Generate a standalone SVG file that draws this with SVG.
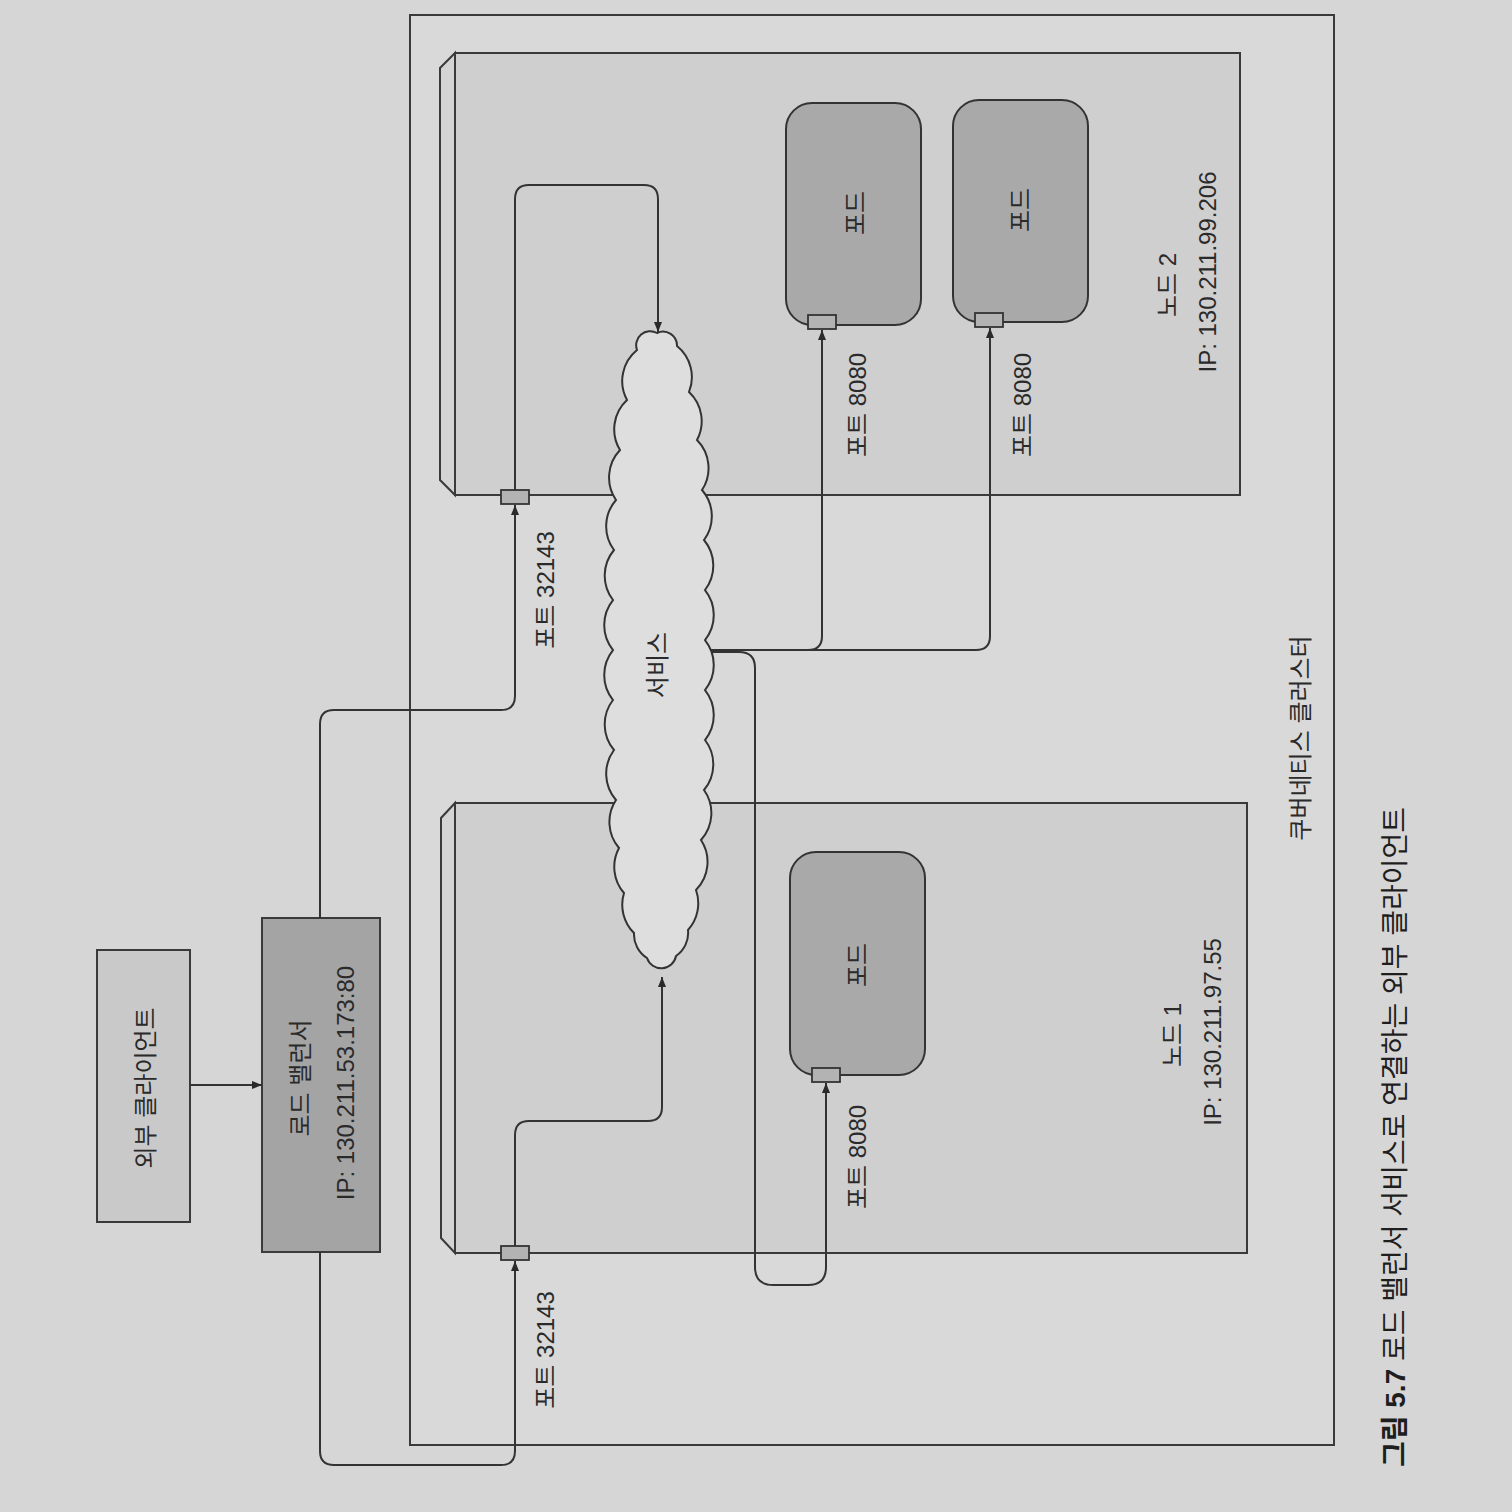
<svg xmlns="http://www.w3.org/2000/svg" width="1512" height="1512" viewBox="0 0 1512 1512">
<defs>
<style>
.t{font-family:"Liberation Sans","Noto Sans CJK KR",sans-serif;font-size:24px;fill:#2a2a2a;text-anchor:middle;dominant-baseline:central}
.cap{font-family:"Liberation Sans","Noto Sans CJK KR",sans-serif;font-size:28px;fill:#1e1e1e;dominant-baseline:central}
.ln{fill:none;stroke:#333;stroke-width:2}
.box{stroke:#3a3a3a;stroke-width:2}
.port{fill:#b3b3b3;stroke:#333;stroke-width:1.8}
.pod{fill:#a9a9a9;stroke:#333;stroke-width:2}
</style>
<marker id="ah" viewBox="0 0 10 8" refX="10" refY="4" markerWidth="10" markerHeight="8" markerUnits="userSpaceOnUse" orient="auto">
<path d="M0,0 L10,4 L0,8 z" fill="#2a2a2a"/>
</marker>
</defs>
<rect x="0" y="0" width="1512" height="1512" fill="#d6d6d6"/>

<g id="cluster">
<rect x="410" y="15" width="924" height="1430" fill="#d9d9d9" class="box"/>
<text class="t" transform="translate(1300,738) rotate(-90)">쿠버네티스 클러스터</text>
</g>

<g id="external-client">
<rect x="97" y="950" width="93" height="272" fill="#c9c9c9" class="box"/>
<text class="t" transform="translate(145,1088) rotate(-90)">외부 클라이언트</text>
</g>

<g id="load-balancer">
<rect x="262" y="918" width="118" height="334" fill="#a4a4a4" class="box"/>
<text class="t" transform="translate(300,1078) rotate(-90)">로드 밸런서</text>
<text class="t" transform="translate(345,1083) rotate(-90)">IP: 130.211.53.173:80</text>
</g>

<g id="node2">
<polygon points="455,53 440,68 440,480 455,495" fill="#d4d4d4" class="box"/>
<rect x="455" y="53" width="785" height="442" fill="#cfcfcf" class="box"/>
<text class="t" transform="translate(1167,285) rotate(-90)">노드 2</text>
<text class="t" transform="translate(1207,272) rotate(-90)">IP: 130.211.99.206</text>
</g>

<g id="node1">
<polygon points="455,803 441,818 441,1238 455,1253" fill="#d4d4d4" class="box"/>
<rect x="455" y="803" width="792" height="450" fill="#cfcfcf" class="box"/>
<text class="t" transform="translate(1172,1035) rotate(-90)">노드 1</text>
<text class="t" transform="translate(1212,1032) rotate(-90)">IP: 130.211.97.55</text>
</g>

<g id="pod2a">
<rect x="786" y="103" width="135" height="222" rx="26" class="pod"/>
<text class="t" transform="translate(855,213) rotate(-90)">포드</text>
</g>
<g id="pod2b">
<rect x="953" y="100" width="135" height="222" rx="26" class="pod"/>
<text class="t" transform="translate(1020,210) rotate(-90)">포드</text>
</g>
<g id="pod1">
<rect x="790" y="852" width="135" height="223" rx="26" class="pod"/>
<text class="t" transform="translate(857,965) rotate(-90)">포드</text>
</g>

<g id="connectors">
<path class="ln" d="M190,1085 H262" marker-end="url(#ah)"/>
<path class="ln" d="M320,918 V724 Q320,710 334,710 H501 Q515,710 515,696 V505" marker-end="url(#ah)"/>
<path class="ln" d="M320,1252 V1451 Q320,1465 334,1465 H501 Q515,1465 515,1451 V1261" marker-end="url(#ah)"/>
<path class="ln" d="M515,490 V199 Q515,185 529,185 H644 Q658,185 658,199 V332" marker-end="url(#ah)"/>
<path class="ln" d="M515,1246 V1135 Q515,1121 529,1121 H648 Q662,1121 662,1107 V977" marker-end="url(#ah)"/>
<path class="ln" d="M700,650 H808 Q822,650 822,636 V330" marker-end="url(#ah)"/>
<path class="ln" d="M808,650 H976 Q990,650 990,636 V328" marker-end="url(#ah)"/>
<path class="ln" d="M700,652 H739 Q755,652 755,668 V1267 Q755,1285 773,1285 H808 Q826,1285 826,1267 V1083" marker-end="url(#ah)"/>
</g>

<g id="ports">
<rect x="501" y="490" width="28" height="14" class="port"/>
<rect x="501" y="1246" width="28" height="14" class="port"/>
<rect x="808" y="315" width="28" height="14" class="port"/>
<rect x="975" y="313" width="28" height="14" class="port"/>
<rect x="812" y="1068" width="28" height="14" class="port"/>
</g>

<g id="service">
<path fill="#dedede" stroke="#333" stroke-width="2" d="M657,333 A14 14 0 0 1 677,346 A40 40 0 0 1 689,392 A40 40 0 0 1 697,440 A40 40 0 0 1 702,490 A40 40 0 0 1 704,540 A40 40 0 0 1 705,590 A40 40 0 0 1 705,640 A40 40 0 0 1 705,690 A40 40 0 0 1 705,740 A40 40 0 0 1 704,790 A40 40 0 0 1 701,840 A40 40 0 0 1 696,890 A40 40 0 0 1 688,930 A28 28 0 0 1 676,956 A15 15 0 0 1 647,958 A28 28 0 0 1 634,933 A40 40 0 0 1 624,893 A40 40 0 0 1 619,848 A40 40 0 0 1 616,800 A40 40 0 0 1 614,750 A40 40 0 0 1 613,700 A40 40 0 0 1 613,650 A40 40 0 0 1 613,600 A40 40 0 0 1 614,550 A40 40 0 0 1 616,500 A40 40 0 0 1 620,450 A40 40 0 0 1 627,400 A40 40 0 0 1 637,350 A14 14 0 0 1 657,333 Z"/>
<text class="t" transform="translate(657,665) rotate(-90)">서비스</text>
</g>

<g id="labels">
<text class="t" transform="translate(545,590) rotate(-90)">포트 32143</text>
<text class="t" transform="translate(545,1350) rotate(-90)">포트 32143</text>
<text class="t" transform="translate(857,405) rotate(-90)">포트 8080</text>
<text class="t" transform="translate(1022,405) rotate(-90)">포트 8080</text>
<text class="t" transform="translate(857,1157) rotate(-90)">포트 8080</text>
</g>

<g id="caption">
<text class="cap" transform="translate(1395,1467) rotate(-90)"><tspan font-weight="bold">그림 5.7</tspan><tspan> 로드 밸런서 서비스로 연결하는 외부 클라이언트</tspan></text>
</g>
</svg>
